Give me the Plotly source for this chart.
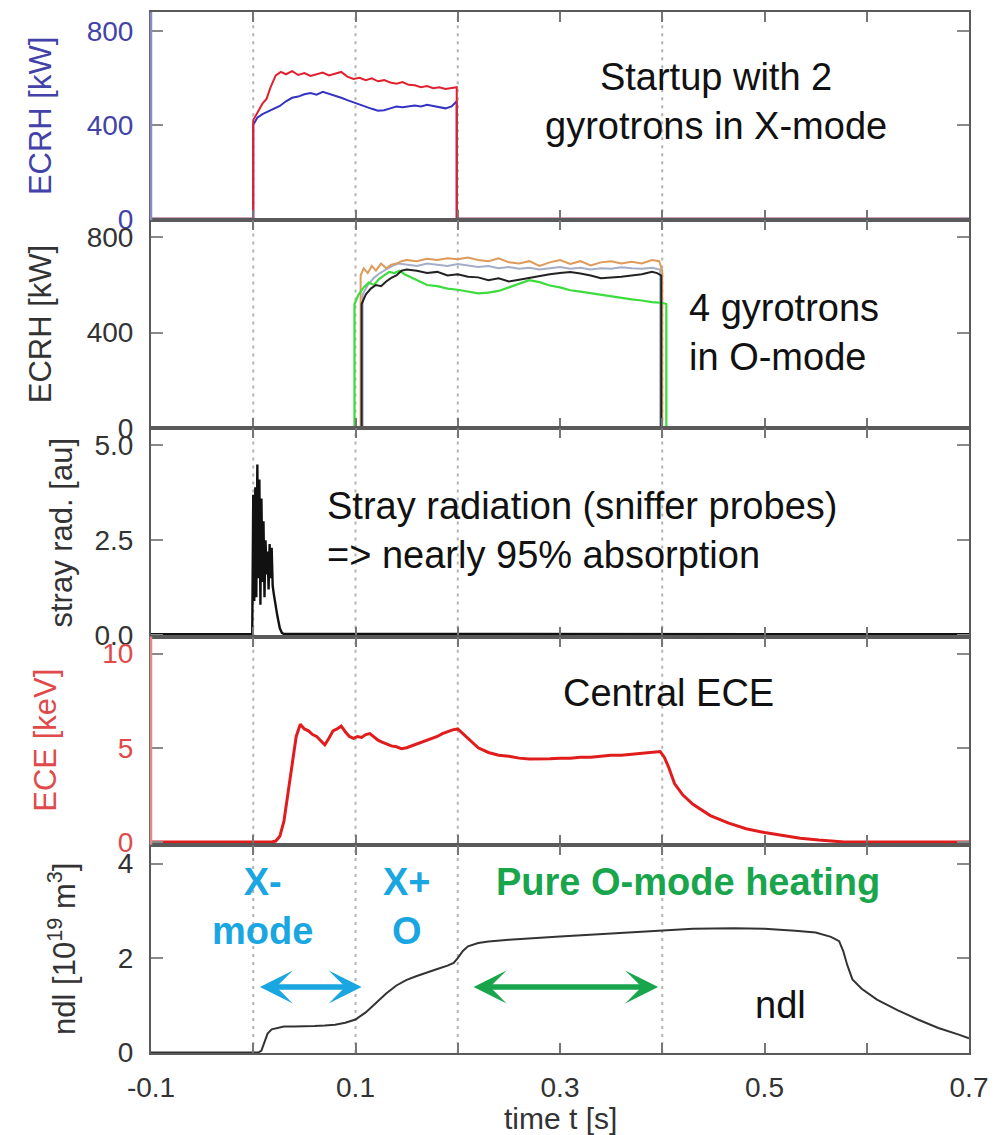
import plotly.graph_objects as go
from plotly.subplots import make_subplots

# ---------------- shared time axis ----------------
time_label_vals = [-0.1, 0.1, 0.3, 0.5, 0.7]
time_label_text = ["-0.1", "0.1", "0.3", "0.5", "0.7"]
time_minor_vals = [0.0, 0.2, 0.4, 0.6]
phase_marks = [0.0, 0.1, 0.2, 0.4]

# ---------------- panel 1: two gyrotrons, X-mode start-up ----------------
gyroX_red_t = [-0.1, 0.0, 0.0, 0.004, 0.009, 0.013, 0.017, 0.022, 0.027, 0.032,
               0.038, 0.044, 0.05, 0.056, 0.062, 0.068, 0.074, 0.08, 0.086, 0.092,
               0.098, 0.104, 0.11, 0.116, 0.122, 0.128, 0.134, 0.14, 0.146, 0.152,
               0.158, 0.164, 0.17, 0.176, 0.182, 0.188, 0.194, 0.199, 0.199, 0.7]
gyroX_red_kw = [0, 0, 420, 450, 490, 510, 560, 610, 625, 615,
                628, 612, 620, 608, 615, 622, 610, 618, 625, 605,
                595, 600, 590, 598, 585, 590, 580, 575, 582, 570,
                568, 560, 565, 556, 560, 552, 556, 560, 0, 0]

gyroX_blue_t = [-0.1, 0.0, 0.0, 0.004, 0.009, 0.014, 0.02, 0.026, 0.032, 0.038,
                0.044, 0.05, 0.056, 0.062, 0.068, 0.074, 0.08, 0.086, 0.092, 0.098,
                0.104, 0.11, 0.116, 0.122, 0.128, 0.134, 0.14, 0.146, 0.152, 0.158,
                0.164, 0.17, 0.176, 0.182, 0.188, 0.194, 0.199, 0.199, 0.7]
gyroX_blue_kw = [0, 0, 400, 430, 445, 455, 465, 480, 500, 515,
                 520, 530, 535, 528, 540, 532, 525, 515, 505, 495,
                 485, 475, 468, 460, 462, 470, 478, 475, 480, 482,
                 478, 485, 480, 476, 470, 478, 500, 0, 0]

# ---------------- panel 2: four gyrotrons, O-mode ----------------
gyroO_green_t = [-0.1, 0.099, 0.099, 0.103, 0.108, 0.113, 0.118, 0.123, 0.128, 0.133,
                 0.138, 0.143, 0.148, 0.155, 0.162, 0.17, 0.18, 0.19, 0.2, 0.21,
                 0.22, 0.23, 0.24, 0.25, 0.26, 0.27, 0.28, 0.29, 0.3, 0.31,
                 0.32, 0.33, 0.34, 0.35, 0.36, 0.37, 0.38, 0.39, 0.4, 0.404,
                 0.404, 0.7]
gyroO_green_kw = [0, 0, 520, 560, 590, 610, 600, 625, 640, 655,
                  650, 660, 645, 630, 615, 600, 595, 585, 580, 572,
                  565, 568, 575, 590, 605, 620, 612, 598, 590, 578,
                  572, 565, 560, 552, 545, 540, 535, 528, 525, 520,
                  0, 0]

gyroO_black_t = [-0.1, 0.106, 0.106, 0.11, 0.115, 0.12, 0.125, 0.13, 0.135, 0.14,
                 0.145, 0.15, 0.16, 0.17, 0.18, 0.19, 0.2, 0.21, 0.22, 0.23,
                 0.24, 0.25, 0.26, 0.27, 0.28, 0.29, 0.3, 0.31, 0.32, 0.33,
                 0.34, 0.35, 0.36, 0.37, 0.38, 0.39, 0.395, 0.399, 0.399, 0.7]
gyroO_black_kw = [0, 0, 520, 560, 585, 600, 595, 615, 630, 640,
                  660, 665, 660, 650, 655, 640, 645, 635, 632, 620,
                  628, 615, 622, 630, 640, 645, 650, 655, 648, 640,
                  628, 630, 635, 640, 645, 655, 650, 640, 0, 0]

gyroO_orange_t = [-0.1, 0.105, 0.105, 0.108, 0.112, 0.116, 0.12, 0.125, 0.13, 0.135,
                  0.14, 0.145, 0.15, 0.16, 0.17, 0.18, 0.19, 0.2, 0.21, 0.22,
                  0.23, 0.24, 0.25, 0.26, 0.27, 0.28, 0.29, 0.3, 0.31, 0.32,
                  0.33, 0.34, 0.35, 0.36, 0.37, 0.38, 0.39, 0.397, 0.4, 0.4,
                  0.7]
gyroO_orange_kw = [0, 0, 640, 670, 650, 680, 660, 690, 670, 685,
                   690, 700, 705, 700, 710, 705, 712, 708, 715, 705,
                   700, 712, 695, 690, 700, 680, 695, 705, 688, 700,
                   682, 695, 700, 690, 698, 690, 705, 700, 660, 0,
                   0]

gyroO_grey_t = [-0.1, 0.107, 0.107, 0.112, 0.118, 0.124, 0.13, 0.136, 0.142, 0.15,
                0.16, 0.17, 0.18, 0.19, 0.2, 0.21, 0.22, 0.23, 0.24, 0.25,
                0.26, 0.27, 0.28, 0.29, 0.3, 0.31, 0.32, 0.33, 0.34, 0.35,
                0.36, 0.37, 0.38, 0.39, 0.398, 0.398, 0.7]
gyroO_grey_kw = [0, 0, 560, 600, 630, 650, 665, 680, 690, 685,
                 680, 690, 685, 680, 688, 682, 676, 680, 670, 675,
                 668, 672, 665, 670, 675, 668, 672, 665, 670, 668,
                 674, 670, 668, 672, 665, 0, 0]

# ---------------- panel 3: stray radiation (sniffer probes) ----------------
stray_t = [-0.1, -0.001, 0.0, 0.001, 0.002, 0.003, 0.004, 0.005, 0.006, 0.007,
           0.008, 0.009, 0.010, 0.011, 0.012, 0.013, 0.014, 0.015, 0.016, 0.017,
           0.018, 0.019, 0.020, 0.021, 0.022, 0.023, 0.024, 0.025, 0.026, 0.028,
           0.03, 0.1, 0.2, 0.3, 0.4, 0.5, 0.6, 0.7]
stray_au = [0.02, 0.02, 3.7, 0.9, 3.9, 1.0, 4.5, 1.5, 4.1, 0.8,
            3.6, 1.4, 3.0, 1.0, 2.5, 1.6, 2.2, 1.2, 2.4, 1.5,
            2.3, 1.3, 1.1, 0.9, 0.75, 0.6, 0.45, 0.3, 0.18, 0.06,
            0.03, 0.03, 0.03, 0.03, 0.03, 0.02, 0.02, 0.02]

# ---------------- panel 4: central ECE electron temperature ----------------
ece_t = [-0.1, 0.018, 0.022, 0.026, 0.03, 0.034, 0.038, 0.042, 0.046, 0.05,
         0.054, 0.058, 0.062, 0.066, 0.07, 0.074, 0.078, 0.082, 0.086, 0.09,
         0.094, 0.098, 0.102, 0.106, 0.11, 0.114, 0.118, 0.122, 0.126, 0.13,
         0.135, 0.14, 0.145, 0.15, 0.155, 0.16, 0.165, 0.17, 0.175, 0.18,
         0.185, 0.19, 0.195, 0.2, 0.205, 0.21, 0.215, 0.22, 0.23, 0.24,
         0.25, 0.26, 0.27, 0.28, 0.29, 0.3, 0.31, 0.32, 0.33, 0.34,
         0.35, 0.36, 0.37, 0.38, 0.39, 0.398, 0.402, 0.406, 0.412, 0.42,
         0.43, 0.447, 0.465, 0.482, 0.5, 0.518, 0.535, 0.553, 0.565, 0.578,
         0.7]
ece_kev = [0, 0, 0.05, 0.3, 1.1, 2.6, 4.0, 5.6, 6.25, 6.0,
           5.9, 5.7, 5.6, 5.4, 5.15, 5.5, 5.9, 6.0, 6.15, 5.85,
           5.6, 5.5, 5.6, 5.55, 5.7, 5.75, 5.55, 5.4, 5.3, 5.2,
           5.1, 5.05, 4.95, 5.0, 5.1, 5.2, 5.3, 5.4, 5.5, 5.6,
           5.75, 5.85, 5.95, 6.0, 5.75, 5.45, 5.2, 5.0, 4.75, 4.6,
           4.55, 4.45, 4.4, 4.4, 4.42, 4.45, 4.45, 4.5, 4.5, 4.55,
           4.6, 4.6, 4.65, 4.7, 4.75, 4.8, 4.5, 4.0, 3.1, 2.5,
           2.0, 1.4, 1.0, 0.7, 0.5, 0.33, 0.2, 0.1, 0.04, 0.0,
           0.0]

# ---------------- panel 5: line-integrated density ----------------
ndl_t = [-0.1, 0.005, 0.008, 0.011, 0.014, 0.018, 0.023, 0.03, 0.04, 0.05,
         0.06, 0.07, 0.08, 0.09, 0.1, 0.11, 0.12, 0.13, 0.14, 0.15,
         0.16, 0.17, 0.18, 0.19, 0.196, 0.2, 0.205, 0.21, 0.22, 0.23,
         0.25, 0.3, 0.35, 0.4, 0.43, 0.47, 0.5, 0.53, 0.55, 0.565,
         0.573, 0.577, 0.581, 0.586, 0.595, 0.61, 0.63, 0.65, 0.67, 0.69,
         0.7]
ndl_val = [0, 0, 0.04, 0.2, 0.4, 0.49, 0.52, 0.55, 0.55, 0.55,
           0.56, 0.57, 0.59, 0.63, 0.7, 0.85, 1.05, 1.25, 1.42, 1.54,
           1.62, 1.7, 1.77, 1.84, 1.9, 2.0, 2.15, 2.25, 2.32, 2.35,
           2.39, 2.46, 2.52, 2.58, 2.62, 2.63, 2.62, 2.58, 2.54, 2.45,
           2.36, 2.15, 1.85, 1.55, 1.35, 1.12, 0.9, 0.7, 0.52, 0.38,
           0.3]

# heating phases marked with arrows in the density panel
xmode_span = [0.005, 0.106]
pure_o_span = [0.214, 0.396]
arrow_level = 1.39

# y-axis ticks per panel
ecrh_ticks = [0, 400, 800]
ecrh_ticktext = ["0", "400", "800"]
stray_ticks = [0, 2.5, 5.0]
stray_ticktext = ["0.0", "2.5", "5.0"]
ece_ticks = [0, 5, 10]
ece_ticktext = ["0", "5", "10"]
ndl_ticks = [0, 2, 4]
ndl_ticktext = ["0", "2", "4"]

FONT = "Liberation Sans, Arial, Helvetica, sans-serif"
BLUE_AX = "#4242a8"
RED_AX = "#e04a4a"
SKY = "#1aa6e0"
GREEN = "#19a54c"
FRAME = "#5a5a5a"
TICK_FS = 28
TITLE_FS = 31
NOTE_FS = 38

fig = make_subplots(rows=5, cols=1, shared_xaxes=True, vertical_spacing=0)

def line(t, v, color, width, row):
    fig.add_trace(go.Scatter(x=t, y=v, mode="lines", showlegend=False,
                             line=dict(color=color, width=width)), row=row, col=1)

line(gyroX_blue_t, gyroX_blue_kw, "#3333c4", 2, 1)
line(gyroX_red_t, gyroX_red_kw, "#e0202e", 2, 1)

line(gyroO_grey_t, gyroO_grey_kw, "#a3adc8", 2, 2)
line(gyroO_orange_t, gyroO_orange_kw, "#dd9a5a", 2, 2)
line(gyroO_green_t, gyroO_green_kw, "#3ddc3d", 2.2, 2)
line(gyroO_black_t, gyroO_black_kw, "#222222", 2, 2)

line(stray_t, stray_au, "#111111", 2.4, 3)
line(ece_t, ece_kev, "#e01c1c", 3, 4)
line(ndl_t, ndl_val, "#333333", 2, 5)

# dotted markers of the heating phase boundaries
for r in range(1, 6):
    for tm in phase_marks:
        fig.add_vline(x=tm, line=dict(color="#b3b3b3", width=2, dash="3px,5px"),
                      layer="below", row=r, col=1)

# axes
for r in range(1, 6):
    fig.update_xaxes(row=r, col=1, range=[-0.1, 0.7],
                     tickvals=time_label_vals, ticktext=time_label_text,
                     ticks="inside", ticklen=10, tickwidth=1.5, tickcolor="#777777",
                     minor=dict(tickvals=time_minor_vals, ticks="inside", ticklen=10,
                                tickwidth=1.5, tickcolor="#777777", showgrid=False),
                     showline=True, linecolor=FRAME, linewidth=2, mirror="ticks",
                     showgrid=False, zeroline=False,
                     showticklabels=(r == 5),
                     tickfont=dict(family=FONT, size=TICK_FS, color="#333333"),
                     ticklabelstandoff=8)

y_specs = [
    (1, [-6, 880], ecrh_ticks, ecrh_ticktext, BLUE_AX, "#8a8ac4"),
    (2, [-2, 872], ecrh_ticks, ecrh_ticktext, "#333333", None),
    (3, [-0.04, 5.45], stray_ticks, stray_ticktext, "#333333", None),
    (4, [-0.15, 10.9], ece_ticks, ece_ticktext, RED_AX, "#e08a8a"),
    (5, [-0.01, 4.4], ndl_ticks, ndl_ticktext, "#333333", None),
]
for r, rng, tv, tt, fcol, left_col in y_specs:
    fig.update_yaxes(row=r, col=1, range=rng, tickvals=tv, ticktext=tt,
                     ticks="inside", ticklen=12, tickwidth=1.5, tickcolor="#8a8a8a",
                     showline=True, linecolor=FRAME, linewidth=2, mirror="ticks",
                     showgrid=False, zeroline=False,
                     tickfont=dict(family=FONT, size=TICK_FS, color=fcol),
                     ticklabelstandoff=10)
    if left_col:
        # coloured left spine for the panels whose axis text is coloured
        xr = "x domain" if r == 1 else f"x{r} domain"
        yr = "y domain" if r == 1 else f"y{r} domain"
        fig.add_shape(type="line", xref=xr, yref=yr, x0=0, x1=0, y0=0, y1=1,
                      line=dict(color=left_col, width=2.5), layer="above")

# axis titles
PLOT_W = 1003 - 151 - 34
def px_to_paper(px):
    return (px - 151) / PLOT_W

y_titles = [
    ("ECRH [kW]", 40, 0.9, BLUE_AX),
    ("ECRH [kW]", 40, 0.7, "#333333"),
    ("stray rad. [au]", 61, 0.5, "#333333"),
    ("ECE [keV]", 46, 0.3, RED_AX),
    ("ndl [10<sup>19</sup> m<sup>3</sup>]", 62, 0.1, "#333333"),
]
for txt, px, yc, col in y_titles:
    fig.add_annotation(text=txt, xref="paper", yref="paper", x=px_to_paper(px), y=yc,
                       xanchor="center", yanchor="middle", textangle=-90, showarrow=False,
                       font=dict(family=FONT, size=TITLE_FS, color=col))

fig.add_annotation(text="time t [s]", xref="paper", yref="paper", x=0.5, y=-0.0625,
                   xanchor="center", yanchor="middle", showarrow=False,
                   font=dict(family=FONT, size=TITLE_FS - 1, color="#333333"))

# panel notes
note = dict(family=FONT, size=NOTE_FS, color="#111111")
fig.add_annotation(text="Startup with 2<br>gyrotrons in X-mode", xref="x", yref="y",
                   x=0.453, y=500, xanchor="center", yanchor="middle", align="center",
                   showarrow=False, font=note)
fig.add_annotation(text="4 gyrotrons<br>in O-mode", xref="x2", yref="y2",
                   x=0.424, y=400, xanchor="left", yanchor="middle", align="left",
                   showarrow=False, font=note)
fig.add_annotation(text="Stray radiation (sniffer probes)<br>=> nearly 95% absorption",
                   xref="x3", yref="y3", x=0.070, y=2.75, xanchor="left", yanchor="middle",
                   align="left", showarrow=False, font=note)
fig.add_annotation(text="Central ECE", xref="x4", yref="y4", x=0.406, y=7.9,
                   xanchor="center", yanchor="middle", showarrow=False, font=note)
fig.add_annotation(text="ndl", xref="x5", yref="y5", x=0.516, y=1.0,
                   xanchor="center", yanchor="middle", showarrow=False, font=note)

bold_sky = dict(family=FONT, size=NOTE_FS, color=SKY, weight="bold")
bold_green = dict(family=FONT, size=NOTE_FS, color=GREEN, weight="bold")
fig.add_annotation(text="X-<br>mode", xref="x5", yref="y5", x=0.0095, y=3.1,
                   xanchor="center", yanchor="middle", align="center",
                   showarrow=False, font=bold_sky)
fig.add_annotation(text="X+<br>O", xref="x5", yref="y5", x=0.150, y=3.1,
                   xanchor="center", yanchor="middle", align="center",
                   showarrow=False, font=bold_sky)
fig.add_annotation(text="Pure O-mode heating", xref="x5", yref="y5", x=0.425, y=3.62,
                   xanchor="center", yanchor="middle", showarrow=False, font=bold_green)

for span, col in [(xmode_span, SKY), (pure_o_span, GREEN)]:
    fig.add_annotation(x=span[1], y=arrow_level, ax=span[0], ay=arrow_level,
                       xref="x5", yref="y5", axref="x5", ayref="y5", text="",
                       showarrow=True, arrowside="end+start",
                       arrowhead=3, startarrowhead=3, arrowsize=1, startarrowsize=1,
                       arrowwidth=5.5, arrowcolor=col, standoff=0, startstandoff=0)

fig.update_layout(width=1003, height=1135,
                  margin=dict(l=151, r=34, t=10, b=82),
                  paper_bgcolor="white", plot_bgcolor="white",
                  font=dict(family=FONT, color="#333333"),
                  showlegend=False)

fig.write_html("out.html")
